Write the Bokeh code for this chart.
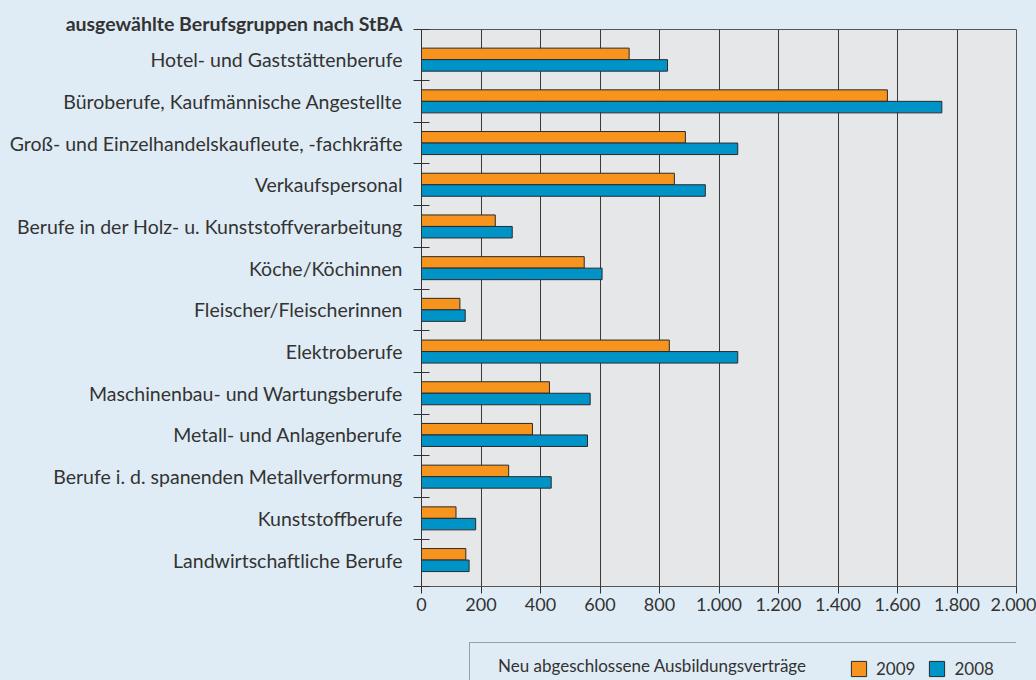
from bokeh.plotting import figure
from bokeh.layouts import column
from bokeh.models import ColumnDataSource, FixedTicker, Range1d, Legend, LegendItem
from bokeh.embed import file_html
from bokeh.resources import INLINE

# ---------------- data ----------------
categories = [
    "Hotel- und Gaststättenberufe",
    "Büroberufe, Kaufmännische Angestellte",
    "Groß- und Einzelhandelskaufleute, -fachkräfte",
    "Verkaufspersonal",
    "Berufe in der Holz- u. Kunststoffverarbeitung",
    "Köche/Köchinnen",
    "Fleischer/Fleischerinnen",
    "Elektroberufe",
    "Maschinenbau- und Wartungsberufe",
    "Metall- und Anlagenberufe",
    "Berufe i. d. spanenden Metallverformung",
    "Kunststoffberufe",
    "Landwirtschaftliche Berufe",
]
values_2009 = [698, 1566, 887, 850, 248, 547, 129, 833, 430, 373, 293, 116, 149]
values_2008 = [827, 1749, 1063, 954, 305, 607, 147, 1063, 567, 558, 436, 182, 160]
series_labels = ["2009", "2008"]
x_ticks = [0, 200, 400, 600, 800, 1000, 1200, 1400, 1600, 1800, 2000]
x_tick_labels = ["0", "200", "400", "600", "800", "1.000", "1.200", "1.400", "1.600", "1.800", "2.000"]
group_title = "ausgewählte Berufsgruppen nach StBA"
legend_title = "Neu abgeschlossene Ausbildungsverträge"

# ---------------- style ----------------
FONT = "Lato"
BG = "#dfecf5"
PLOT_BG = "#e6e7e9"
ORANGE = "#f7941d"
BLUE = "#0093c8"
INK = "#333333"
EDGE = "#2a2a2a"
FRAME = "#555555"

n = len(categories)
pos = list(range(n))
BAR_H = 0.276

src = ColumnDataSource(dict(
    y09=[i - BAR_H / 2 for i in pos],
    y08=[i + BAR_H / 2 for i in pos],
    v09=values_2009,
    v08=values_2008,
))

BORDER_L, BORDER_R = 421, 20

p = figure(width=1036, height=640, output_backend="svg", toolbar_location=None,
           x_range=Range1d(0, 2000), y_range=Range1d(12.634, -0.723),
           min_border_left=BORDER_L, min_border_right=BORDER_R, min_border_top=29, min_border_bottom=54,
           background_fill_color=PLOT_BG, border_fill_color=BG,
           outline_line_color=FRAME, outline_line_width=1)

p.hbar(y="y09", left=0, right="v09", height=BAR_H, source=src,
       fill_color=ORANGE, line_color=EDGE, line_width=1)
p.hbar(y="y08", left=0, right="v08", height=BAR_H, source=src,
       fill_color=BLUE, line_color=EDGE, line_width=1)

# group heading, right-aligned next to the frame top
p.title.text = group_title
p.title.align = "right"
p.title.offset = 614
p.title.standoff = -11
p.title.text_font = FONT
p.title.text_font_style = "bold"
p.title.text_font_size = "19.5px"
p.title.text_color = INK

# grid
p.ygrid.visible = False
p.xgrid.ticker = FixedTicker(ticks=x_ticks[1:-1])
p.xgrid.grid_line_color = "#3a3a3a"
p.xgrid.grid_line_width = 1

# x axis
xa = p.xaxis[0]
xa.ticker = FixedTicker(ticks=x_ticks)
xa.major_label_overrides = dict(zip(x_ticks, x_tick_labels))
xa.major_tick_in = 0
xa.major_tick_out = 7
xa.minor_tick_line_color = None
xa.axis_line_color = FRAME
xa.major_tick_line_color = INK
xa.major_label_standoff = 4
xa.major_label_text_font = FONT
xa.major_label_text_font_size = "18px"
xa.major_label_text_color = INK

# y axis
ya = p.yaxis[0]
ya.ticker = FixedTicker(ticks=pos, minor_ticks=[i + 0.5 for i in range(n - 1)] + [-0.72, 12.63])
ya.major_label_overrides = {i: c for i, c in enumerate(categories)}
ya.major_tick_line_color = None
ya.major_tick_in = 0
ya.major_tick_out = 0
ya.minor_tick_in = 8
ya.minor_tick_out = 8
ya.minor_tick_line_color = INK
ya.axis_line_color = INK
ya.major_label_standoff = 11
ya.major_label_text_font = FONT
ya.major_label_text_font_size = "19.5px"
ya.major_label_text_color = INK

# ---------------- legend strip (same side borders so frames align) ----------------
q = figure(width=1036, height=40, output_backend="svg", toolbar_location=None,
           x_range=Range1d(0, 595), y_range=Range1d(0, 40),
           x_axis_type=None, y_axis_type=None,
           min_border_left=BORDER_L, min_border_right=BORDER_R, min_border_top=0, min_border_bottom=0,
           background_fill_color=BG, border_fill_color=BG, outline_line_color=None)
q.xgrid.visible = False
q.ygrid.visible = False

# invisible stand-in for the caption item, hidden copies of the bars for the swatches
r_cap = q.hbar(y=[], left=[], right=[], height=1, fill_alpha=0, line_alpha=0)
s09 = q.hbar(y="y09", left=0, right="v09", height=BAR_H, source=src,
             fill_color=ORANGE, line_color=EDGE, line_width=1, visible=False)
s08 = q.hbar(y="y08", left=0, right="v08", height=BAR_H, source=src,
             fill_color=BLUE, line_color=EDGE, line_width=1, visible=False)

box = Legend(items=[LegendItem(label=legend_title, renderers=[r_cap])],
             location=(48, -9), orientation="horizontal", padding=12, margin=0,
             glyph_width=8, glyph_height=20, label_standoff=8, label_width=506, label_height=20,
             border_line_color=FRAME, border_line_width=1,
             background_fill_color=BG, background_fill_alpha=1,
             label_text_font=FONT, label_text_font_size="17px", label_text_color=INK)
q.add_layout(box)

leg = Legend(items=[LegendItem(label=series_labels[0], renderers=[s09]),
                    LegendItem(label=series_labels[1], renderers=[s08])],
             location=(428, 1.5), orientation="horizontal", padding=0, margin=0,
             glyph_width=19, glyph_height=19, label_standoff=8, spacing=12, label_height=19,
             border_line_color=None, background_fill_alpha=0,
             label_text_font=FONT, label_text_font_size="17px", label_text_color=INK)
q.add_layout(leg)

layout = column(p, q, spacing=0, styles={"background-color": BG})
open("out.html", "w").write(file_html(layout, INLINE))
